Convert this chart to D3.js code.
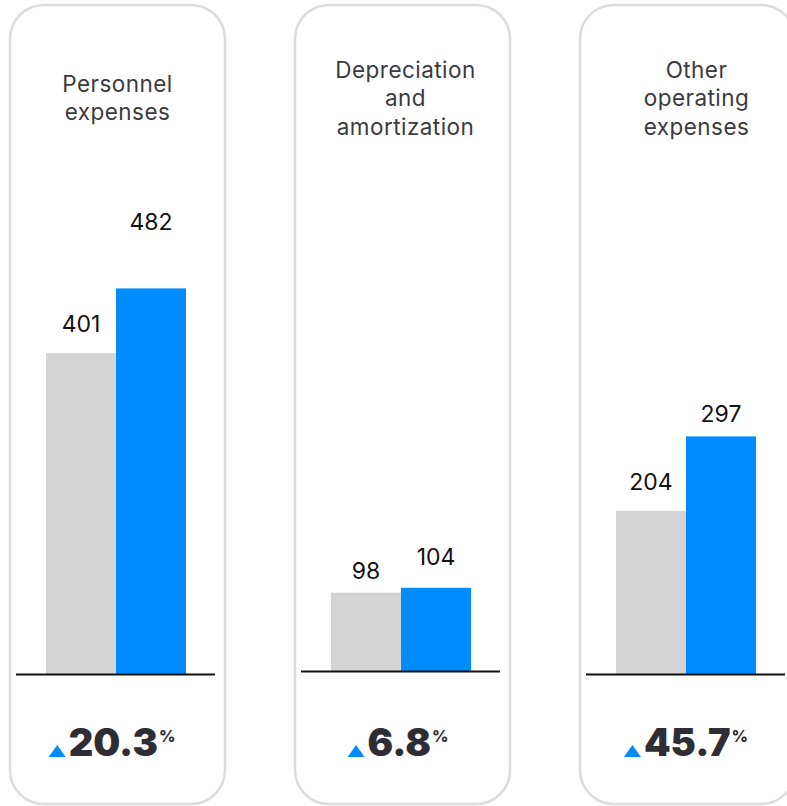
<!DOCTYPE html>
<html>
<head>
<meta charset="utf-8">
<script src="https://cdn.jsdelivr.net/npm/d3@7"></script>
<style>
  html, body { margin: 0; padding: 0; background: #ffffff; }
  svg { display: block; }
</style>
</head>
<body>
<div id="chart"></div>
<script>
// ---- Data ----
const categories = ["Personnel expenses", "Depreciation and amortization", "Other operating expenses"];
const categoryLines = [["Personnel", "expenses"], ["Depreciation", "and", "amortization"], ["Other", "operating", "expenses"]];
const seriesNames = ["Previous period", "Current period"];
const previousValues = [401, 98, 204];
const currentValues = [482, 104, 297];
const changeLabels = ["20.3", "6.8", "45.7"];

// ---- Layout / style ----
const W = 787, H = 806;
const panelStep = 285, panelX0 = 10, panelW = 215, panelY = 5, panelH = 799;
const baselines = [674, 671, 674];
const labelGaps = [[21, 58], [14, 23], [21, 14]];
const titleShift = [0, 3, 9];
const changeShift = [-6, -5, -2];
const colors = ["#d4d4d4", "#008cff"];

const svg = d3.select("#chart").append("svg")
  .attr("width", W).attr("height", H)
  .style("font-family", "Inter, 'Noto Sans', sans-serif");

const h = d3.scaleLinear().domain([0, 600]).range([0, 480]);

categories.forEach((cat, i) => {
  const px = panelX0 + i * panelStep;
  const g = svg.append("g").attr("transform", `translate(${px},0)`);
  const base = baselines[i];

  g.append("rect")
    .attr("x", 0).attr("y", panelY).attr("width", panelW).attr("height", panelH)
    .attr("rx", 34).attr("ry", 34)
    .attr("fill", "#ffffff").attr("stroke", "#dcdcdc").attr("stroke-width", 2.5);

  // Title
  const lines = categoryLines[i];
  const lh = 28.5;
  const firstBase = 106 - (lines.length - 1) * lh / 2;
  const title = g.append("text")
    .attr("text-anchor", "middle")
    .attr("font-size", 22.5)
    .attr("letter-spacing", 0.45)
    .attr("fill", "#3a3a3f");
  lines.forEach((ln, k) => {
    title.append("tspan").attr("x", panelW / 2 + titleShift[i]).attr("y", firstBase + k * lh).text(ln);
  });

  // Bars
  const x = d3.scaleBand().domain(seriesNames).range([36, 176]).padding(0);
  const vals = [previousValues[i], currentValues[i]];
  seriesNames.forEach((s, j) => {
    g.append("rect")
      .attr("x", x(s)).attr("width", x.bandwidth())
      .attr("y", base - h(vals[j])).attr("height", h(vals[j]))
      .attr("fill", colors[j]);
    g.append("text")
      .attr("x", x(s) + x.bandwidth() / 2)
      .attr("y", base - h(vals[j]) - labelGaps[i][j])
      .attr("text-anchor", "middle")
      .attr("font-size", 23)
      .attr("fill", "#111111")
      .text(vals[j]);
  });

  // Baseline
  g.append("line")
    .attr("x1", 6).attr("x2", 205)
    .attr("y1", base + 0.5).attr("y2", base + 0.5)
    .attr("stroke", "#111111").attr("stroke-width", 2);

  // Change label
  const cg = g.append("g");
  const num = cg.append("text")
    .attr("y", 756)
    .attr("font-size", 38)
    .attr("font-weight", 900)
    .attr("fill", "#2d2d33");
  num.append("tspan").text(changeLabels[i]);
  num.append("tspan").attr("dx", 1).attr("dy", -14).attr("font-size", 16).attr("font-weight", 800).text("%");
  const tw = num.node().getComputedTextLength();
  const triW = 17, triH = 12, gap = 3;
  const total = triW + gap + tw;
  const startX = panelW / 2 + changeShift[i] - total / 2;
  cg.append("path")
    .attr("d", `M${startX},757 L${startX + triW},757 L${startX + triW / 2},${757 - triH} Z`)
    .attr("fill", colors[1]);
  num.attr("x", startX + triW + gap);
  num.select("tspan").attr("x", startX + triW + gap);
});
</script>
</body>
</html>
